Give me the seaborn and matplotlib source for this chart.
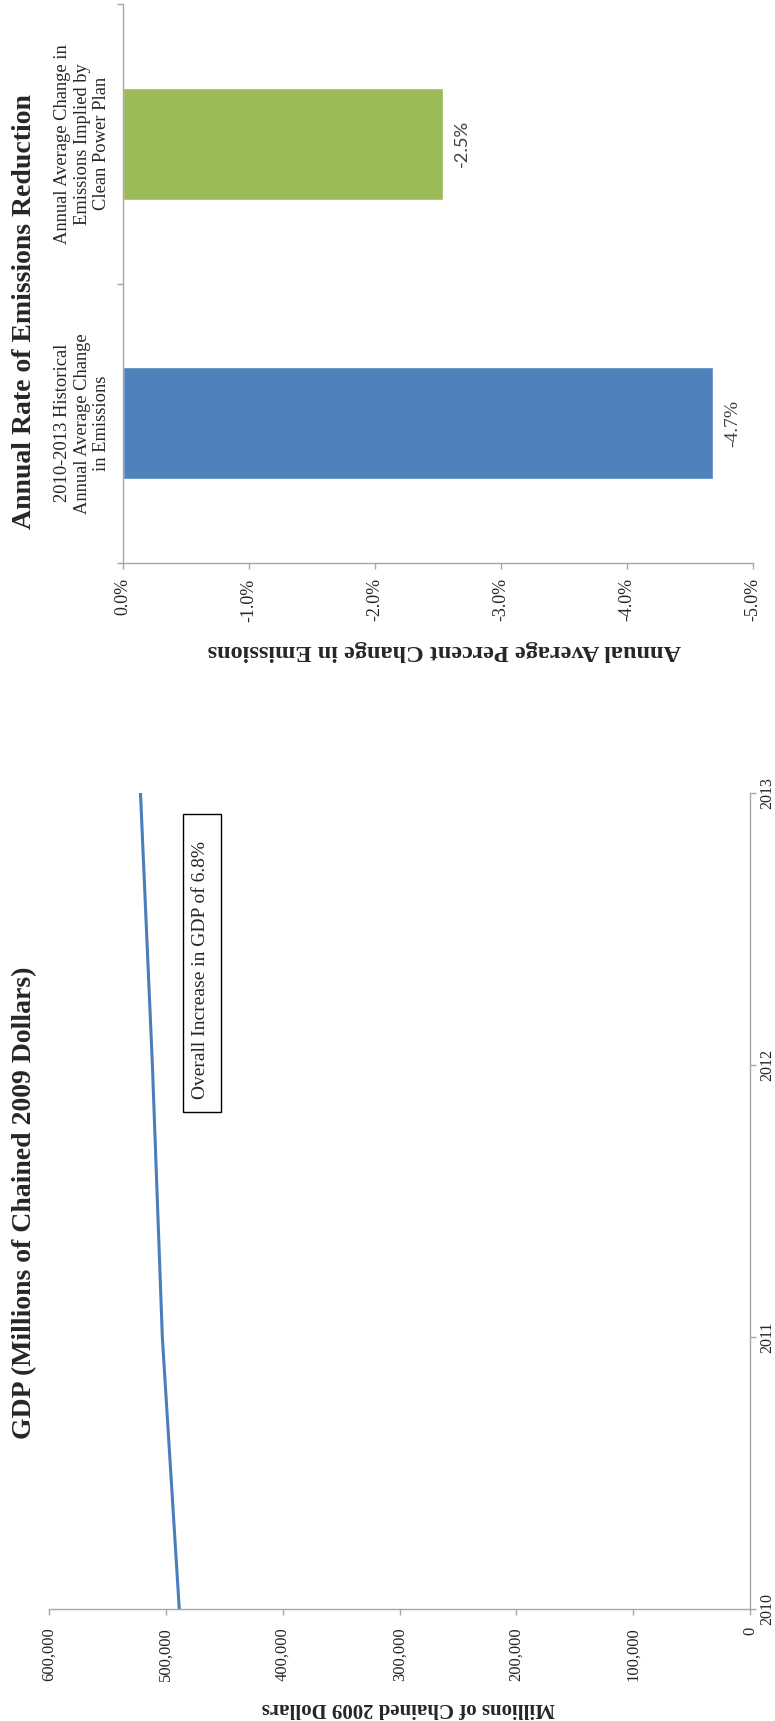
import matplotlib
matplotlib.use("Agg")
import matplotlib.pyplot as plt
import matplotlib.ticker as mticker
from matplotlib.patches import Rectangle
import pandas as pd
import seaborn as sns

# GDP, millions of chained 2009 dollars
years = [2010, 2011, 2012, 2013]
gdp = [488500, 503000, 511500, 521700]
gdp_ticks = [0, 100000, 200000, 300000, 400000, 500000, 600000]

# annual rate of emissions reduction
categories = ["2010-2013 Historical\nAnnual Average Change\nin Emissions",
              "Annual Average Change in\nEmissions Implied by\nClean Power Plan"]
rates = [-0.0468, -0.0254]
rate_ticks = [0.0, -0.01, -0.02, -0.03, -0.04, -0.05]
bar_colors = ["#4F81BD", "#9BBB59"]

sns.set_style("white")
plt.rcParams["font.family"] = ["Liberation Serif", "DejaVu Serif"]
GRAY = "#A6A6A6"

W, H = 775, 1721
fig = plt.figure(figsize=(W / 100, H / 100), dpi=100)


def box(l, t, r, b):
    return [l / W, 1 - b / H, (r - l) / W, (b - t) / H]


def pct(v, pos=None):
    return f"{v * 100:.1f}%"


# the page is turned a quarter turn, so everything is drawn sideways
# ---- emissions chart (top)
ax1 = fig.add_axes(box(123, 4, 753, 563))
df = pd.DataFrame({"cat": categories, "rate": rates})
sns.barplot(data=df, x="rate", y="cat", hue="cat", order=categories[::-1],
            hue_order=categories, palette=bar_colors, width=0.4, orient="h",
            saturation=1, legend=False, ax=ax1)
ax1.set_xlim(0, -0.05)
ax1.set_ylim(1.5, -0.5)
ax1.set_xticks(rate_ticks)
ax1.xaxis.set_major_formatter(mticker.FuncFormatter(pct))
ax1.tick_params(axis="x", bottom=True, length=4, width=1, color=GRAY,
                labelsize=13, labelrotation=90, pad=7)
ax1.set_yticks([-0.5, 0.5, 1.5], minor=True)
ax1.tick_params(axis="y", which="minor", left=True, length=4, width=1, color=GRAY)
ax1.tick_params(axis="y", which="major", left=False, length=0, pad=9, labelsize=13.3)
for lbl in ax1.get_yticklabels():
    lbl.set_rotation(90)
    lbl.set_va("center")
    lbl.set_ha("right")
    lbl.set_multialignment("center")
for side in ["top", "right"]:
    ax1.spines[side].set_visible(False)
for side in ["left", "bottom"]:
    ax1.spines[side].set_color(GRAY)
    ax1.spines[side].set_linewidth(1)
ax1.set_ylabel("")
ax1.set_xlabel("Annual Average Percent Change in Emissions", rotation=180,
               fontsize=17.5, fontweight="bold", va="top")
ax1.xaxis.set_label_coords(0.510, (563 - 640) / 559)

label_fonts = [(["Liberation Serif"], 14), (["Lato", "DejaVu Sans"], 13.2)]
for cont, (fam, size) in zip(ax1.containers, label_fonts):
    texts = ax1.bar_label(cont, fmt=pct, rotation=90, padding=8,
                          fontsize=size, color="#404040")
    for t in texts:
        t.set_family(fam)
        t.set_va("center")

fig.text(25 / W, 1 - 312 / H, "Annual Rate of Emissions Reduction",
         rotation=90, ha="center", va="center", fontsize=20, fontweight="bold")

# ---- GDP chart (bottom)
ax2 = fig.add_axes(box(49, 793, 750, 1609))
sns.lineplot(x=gdp, y=years, orient="y", color="#4A7EBB", linewidth=2.2, ax=ax2)
ax2.set_xlim(600000, 0)
ax2.set_ylim(2010, 2013)
ax2.set_xticks(gdp_ticks)
ax2.xaxis.set_major_formatter(mticker.FuncFormatter(lambda v, p: f"{v:,.0f}"))
ax2.set_yticks(years)
ax2.yaxis.tick_right()
ax2.tick_params(axis="x", bottom=True, length=4, width=1, color=GRAY,
                labelsize=12, labelrotation=90, pad=9)
ax2.tick_params(axis="y", right=True, left=False, length=4, width=1, color=GRAY,
                labelsize=11.5, labelrotation=90, pad=3)
for lbl in ax2.get_yticklabels():
    lbl.set_va("center")
for side in ["top", "left"]:
    ax2.spines[side].set_visible(False)
for side in ["right", "bottom"]:
    ax2.spines[side].set_color(GRAY)
    ax2.spines[side].set_linewidth(1)
ax2.set_ylabel("")
ax2.set_xlabel("Millions of Chained 2009 Dollars", rotation=180,
               fontsize=15, fontweight="bold", va="top")
ax2.xaxis.set_label_coords(0.512, (1609 - 1698) / 816)

ax2.add_patch(Rectangle((0.1912, 0.609), 0.0542, 0.365, transform=ax2.transAxes,
                        fill=False, edgecolor="black", linewidth=1))
ax2.text(0.2168, 0.625, "Overall Increase in GDP of 6.8%", transform=ax2.transAxes,
         rotation=90, ha="center", va="bottom", fontsize=14)

fig.text(25 / W, 1 - 1203 / H, "GDP (Millions of Chained 2009 Dollars)",
         rotation=90, ha="center", va="center", fontsize=20, fontweight="bold")

fig.savefig("out.png", dpi=100)
